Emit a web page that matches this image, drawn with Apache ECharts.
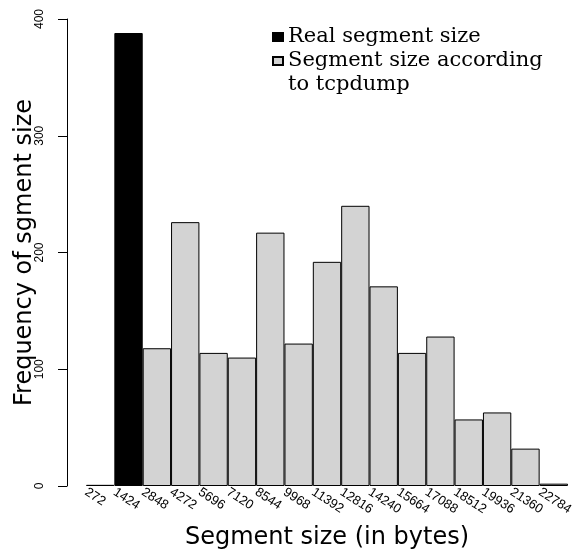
<!DOCTYPE html>
<html lang="en">
<head>
<meta charset="UTF-8">
<script src="https://cdn.jsdelivr.net/npm/echarts@6/dist/echarts.min.js"></script>
<style>
  html, body { margin: 0; padding: 0; background: #fff; }
  #chart { width: 575px; height: 549px; }
</style>
</head>
<body>
<div id="chart"></div>
<script>
// bin left edges (bytes)
var binLabels = ['272', '1424', '2848', '4272', '5696', '7120', '8544', '9968', '11392',
  '12816', '14240', '15664', '17088', '18512', '19936', '21360', '22784'];
// real segment size (only the 1424 bin)
var realSize = [null, 388, null, null, null, null, null, null, null,
  null, null, null, null, null, null, null, null];
// segment size according to tcpdump
var tcpdumpSize = [1, null, 118, 226, 114, 110, 217, 122, 192,
  240, 171, 114, 128, 57, 63, 32, 2];

var chart = echarts.init(document.getElementById('chart'));

var legendText = { fontFamily: 'DejaVu Serif', fontSize: 21, color: '#000', lineHeight: 24 };

chart.setOption({
  animation: false,
  grid: { left: 86, right: 7, top: 19, bottom: 63, outerBoundsMode: 'none' },
  legend: [
    {
      orient: 'vertical',
      left: 272,
      top: 25,
      padding: 0,
      itemWidth: 10,
      itemHeight: 8,
      icon: 'rect',
      textStyle: legendText,
      data: ['Real segment size']
    },
    {
      // leading blank line keeps the key box level with the first text line
      orient: 'vertical',
      left: 272,
      top: 25,
      padding: 0,
      itemWidth: 10,
      itemHeight: 8,
      icon: 'rect',
      textStyle: legendText,
      formatter: function () { return '\nSegment size according\nto tcpdump'; },
      data: ['Segment size according to tcpdump']
    }
  ],
  xAxis: [
    {
      type: 'category',
      data: binLabels,
      axisLine: { show: false },
      axisTick: { show: false },
      axisLabel: { show: false },
      name: 'Segment size (in bytes)',
      nameLocation: 'middle',
      nameGap: 40,
      nameMoveOverlap: false,
      nameTextStyle: { fontFamily: 'DejaVu Sans', fontSize: 24, color: '#000' }
    },
    {
      type: 'category',
      data: binLabels.concat(['']),
      boundaryGap: false,
      position: 'bottom',
      axisLine: { show: false },
      axisTick: { show: false },
      axisLabel: {
        rotate: -33,
        margin: 5,
        interval: 0,
        fontFamily: 'Liberation Sans',
        fontSize: 13,
        color: '#000'
      }
    }
  ],
  yAxis: {
    type: 'value',
    min: 0,
    max: 400,
    interval: 100,
    offset: 19,
    splitLine: { show: false },
    axisLine: { show: true, lineStyle: { color: '#000', width: 1 } },
    axisTick: { show: true, length: 9, lineStyle: { color: '#000' } },
    axisLabel: {
      rotate: 90,
      margin: 21,
      fontFamily: 'Liberation Sans',
      fontSize: 12,
      color: '#000'
    },
    name: 'Frequency of sgment size',
    nameLocation: 'middle',
    nameGap: 30,
    nameMoveOverlap: false,
    nameTextStyle: { fontFamily: 'DejaVu Sans', fontSize: 24, color: '#000' }
  },
  series: [
    {
      name: 'Real segment size',
      type: 'bar',
      data: realSize,
      barCategoryGap: 0,
      barGap: '-100%',
      itemStyle: { color: '#000', borderColor: '#000', borderWidth: 1 }
    },
    {
      name: 'Segment size according to tcpdump',
      type: 'bar',
      data: tcpdumpSize,
      barCategoryGap: 0,
      barGap: '-100%',
      itemStyle: { color: '#d3d3d3', borderColor: '#000', borderWidth: 1 }
    }
  ]
});
</script>
</body>
</html>
